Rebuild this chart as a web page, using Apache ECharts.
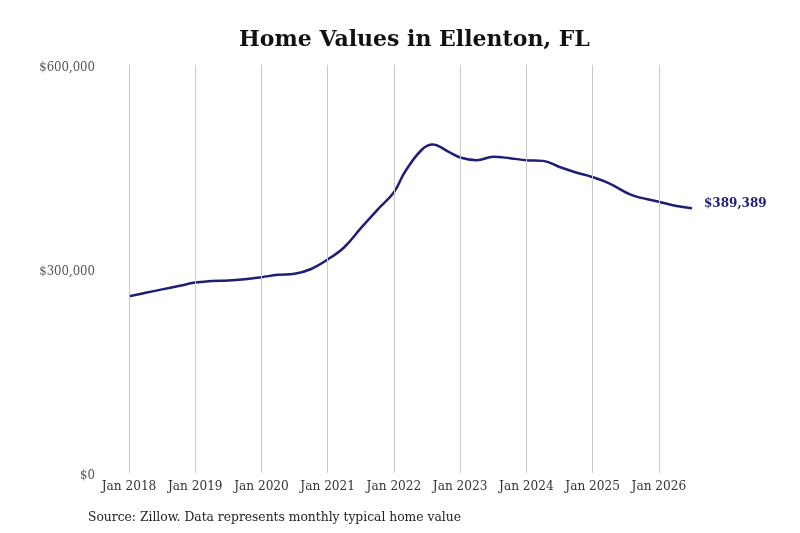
<!DOCTYPE html>
<html>
<head>
<meta charset="utf-8">
<script src="https://cdn.jsdelivr.net/npm/echarts@6/dist/echarts.min.js"></script>
<style>
  html, body { margin: 0; padding: 0; background: #fff; }
  #chart-container { width: 800px; height: 533px; }
</style>
</head>
<body>
<div id="chart-container"></div>
<script>
// monthly typical home value
var months = [
    '2018-01', '2018-04', '2018-07', '2018-10',
    '2019-01', '2019-04', '2019-07', '2019-10',
    '2020-01', '2020-04', '2020-07', '2020-10',
    '2021-01', '2021-04', '2021-07', '2021-10',
    '2022-01', '2022-03', '2022-06', '2022-08', '2022-11',
    '2023-01', '2023-04', '2023-07', '2023-10',
    '2024-01', '2024-04', '2024-07', '2024-10',
    '2025-01', '2025-04', '2025-08',
    '2026-01', '2026-04', '2026-07'
];
var values = [
    260000, 265000, 270000, 275000,
    280000, 282500, 283000, 285000,
    288000, 291500, 293000, 300000,
    314000, 332000, 360000, 387000,
    413000, 443000, 475000, 483000, 472000,
    464000, 460000, 465000, 463000,
    460000, 459000, 450000, 442000,
    435000, 426000, 409000,
    399000, 393000, 389389
];
var yTicks = [0, 300000, 600000];
var yearTicks = ['2018', '2019', '2020', '2021', '2022', '2023', '2024', '2025', '2026'];
var startYear = 2018;

function monthIndex(s) {
    var p = s.split('-');
    return (parseInt(p[0]) - startYear) * 12 + parseInt(p[1]) - 1;
}
function money(v) {
    return '$' + v.toString().replace(/\B(?=(\d{3})+(?!\d))/g, ',');
}

var seriesData = months.map(function (m, i) { return [monthIndex(m), values[i]]; });
var serif = '"DejaVu Serif Condensed", "DejaVu Serif", serif';

var chart = echarts.init(document.getElementById('chart-container'));
var option = {
    animation: false,
    backgroundColor: '#fff',
    title: {
        text: 'Home Values in Ellenton, FL',
        left: 234,
        top: 24,
        textStyle: { fontFamily: '"DejaVu Serif", serif', fontWeight: 'bold', fontSize: 22, color: '#111' }
    },
    graphic: [{
        type: 'text',
        left: 88,
        top: 510,
        style: {
            text: 'Source: Zillow. Data represents monthly typical home value',
            font: '13.7px ' + serif,
            fill: '#222'
        }
    }],
    grid: { left: 129, right: 108, top: 65, bottom: 60 },
    xAxis: {
        type: 'value',
        min: 0,
        max: monthIndex(months[months.length - 1]),
        interval: 12,
        axisLine: { show: false },
        axisTick: { show: false },
        splitLine: { show: false },
        axisLabel: {
            margin: 6,
            fontFamily: serif,
            fontSize: 13.5,
            color: '#333',
            showMaxLabel: false,
            formatter: function (v) { return v % 12 === 0 ? 'Jan ' + (startYear + v / 12) : ''; }
        }
    },
    yAxis: {
        type: 'value',
        min: yTicks[0],
        max: yTicks[yTicks.length - 1],
        interval: yTicks[1] - yTicks[0],
        axisLine: { show: false },
        axisTick: { show: false },
        splitLine: { show: false },
        axisLabel: {
            margin: 34,
            formatter: function (v) { return '{a|' + money(v) + '}'; },
            rich: {
                a: { fontFamily: serif, fontSize: 13, color: '#555', padding: [5, 0, 0, 0] }
            }
        }
    },
    series: [{
        type: 'line',
        data: seriesData,
        smooth: 0.4,
        showSymbol: false,
        lineStyle: { color: '#1f1d75', width: 2.5 },
        endLabel: {
            show: true,
            distance: 12,
            offset: [0, -4],
            formatter: function (p) { return money(p.value[1]); },
            fontFamily: '"DejaVu Serif", serif',
            fontWeight: 'bold',
            fontSize: 12,
            color: '#1f1d75'
        },
        markLine: {
            silent: true,
            symbol: 'none',
            label: { show: false },
            lineStyle: { color: '#c8c8c8', width: 1, type: 'solid' },
            data: yearTicks.map(function (y) { return { xAxis: monthIndex(y + '-01') }; })
        }
    }]
};
chart.setOption(option);
</script>
</body>
</html>
